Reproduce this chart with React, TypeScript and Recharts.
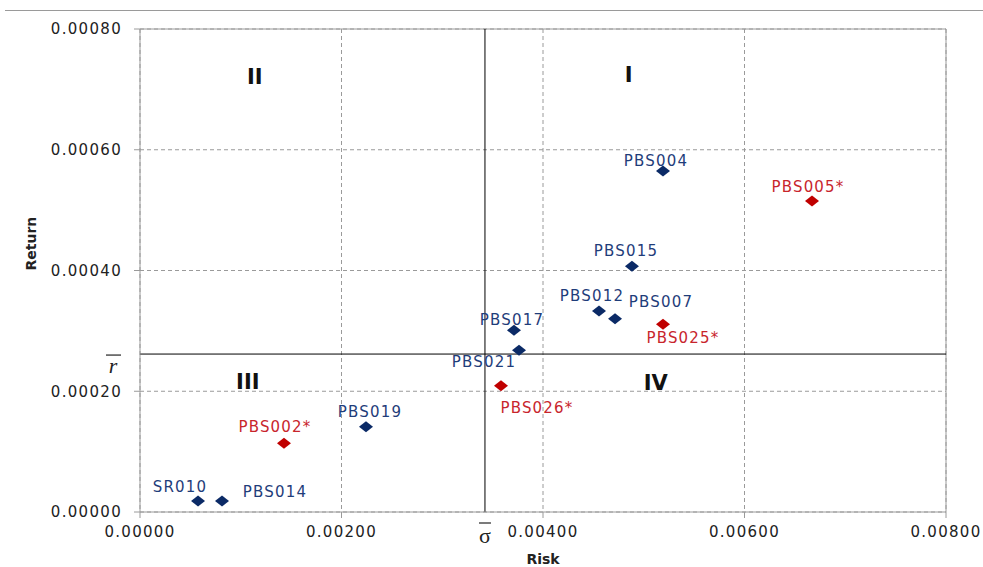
import React from 'react'
import {
    ScatterChart,
    Scatter,
    XAxis,
    YAxis,
    CartesianGrid,
    ReferenceLine,
    ReferenceDot,
} from 'recharts'

// blue = regular, red = flagged (*)
const blueNames = ['SR010', 'PBS014', 'PBS019', 'PBS021', 'PBS017', 'PBS012', 'PBS007', 'PBS015', 'PBS004']
const blueRisk = [0.000576, 0.000814, 0.002243, 0.003762, 0.003712, 0.004556, 0.004715, 0.004883, 0.005191]
const blueReturn = [0.0000182, 0.0000182, 0.000141, 0.000268, 0.000301, 0.000333, 0.00032, 0.000407, 0.000565]

const redNames = ['PBS002*', 'PBS026*', 'PBS025*', 'PBS005*']
const redRisk = [0.001429, 0.003583, 0.005191, 0.00667]
const redReturn = [0.000114, 0.000209, 0.000311, 0.000515]

const meanRisk = 0.003424
const meanReturn = 0.0002616

const xTicks = [0, 0.002, 0.004, 0.006, 0.008]
const yTicks = [0, 0.0002, 0.0004, 0.0006, 0.0008]

const quadrants = [
    { name: 'I', risk: 0.00485, ret: 0.000724 },
    { name: 'II', risk: 0.00114, ret: 0.00072 },
    { name: 'III', risk: 0.00107, ret: 0.000215 },
    { name: 'IV', risk: 0.00512, ret: 0.000214 },
]

// label offsets from the marker centre
const labelOffset: Record<string, [number, number]> = {
    'SR010': [-18, -14],
    'PBS014': [53, -9],
    'PBS002*': [-9, -16],
    'PBS019': [4, -15],
    'PBS026*': [36, 22],
    'PBS021': [-35, 12],
    'PBS017': [-2, -10],
    'PBS012': [-7, -15],
    'PBS007': [46, -17],
    'PBS025*': [20, 14],
    'PBS015': [-6, -15],
    'PBS004': [-7, -10],
    'PBS005*': [-4, -14],
}

const blueData = blueNames.map((name, i) => ({ name, risk: blueRisk[i], ret: blueReturn[i] }))
const redData = redNames.map((name, i) => ({ name, risk: redRisk[i], ret: redReturn[i] }))

const FONT = '"DejaVu Sans", Verdana, sans-serif'

const makeShape = (marker: string, text: string) => (props: any) => {
    const { cx, cy, payload } = props
    const [dx, dy] = labelOffset[payload.name] || [0, -14]
    return (
        <g>
            <path d={`M${cx},${cy - 5.5} L${cx + 7},${cy} L${cx},${cy + 5.5} L${cx - 7},${cy} Z`} fill={marker} />
            <text
                x={cx + dx}
                y={cy + dy}
                textAnchor="middle"
                dominantBaseline="central"
                fill={text}
                fontSize={15}
                letterSpacing={1.2}
                fontFamily={FONT}
            >
                {payload.name}
            </text>
        </g>
    )
}

const SigmaMark = (props: any) => {
    const { x } = props.viewBox
    return (
        <g>
            <line x1={x - 6} x2={x + 6} y1={523} y2={523} stroke="#222" strokeWidth={1.2} />
            <text x={x} y={535} textAnchor="middle" dominantBaseline="central" fontSize={22} fontFamily='"Liberation Serif", serif' fill="#222">
                σ
            </text>
        </g>
    )
}

const RMark = (props: any) => {
    const { y } = props.viewBox
    return (
        <g>
            <line x1={106} x2={121} y1={y + 1} y2={y + 1} stroke="#222" strokeWidth={1.2} />
            <text x={113} y={y + 11} textAnchor="middle" dominantBaseline="central" fontSize={22} fontStyle="italic" fontFamily='"Liberation Serif", serif' fill="#222">
                r
            </text>
        </g>
    )
}

const quadLabel = (name: string) => (props: any) => {
    const { x, y, width, height } = props.viewBox
    return (
        <text x={x + (width || 0) / 2} y={y + (height || 0) / 2} textAnchor="middle" dominantBaseline="central" fontSize={21} fontWeight="bold" fontFamily={FONT} fill="#111">
            {name}
        </text>
    )
}

const tickStyle = { fontSize: 15, fill: '#222', fontFamily: FONT, letterSpacing: 1.3 }

export default function App() {
    return (
        <div style={{ position: 'absolute', left: 0, top: 0, width: 983, height: 567, background: '#fff' }}>
            <div style={{ position: 'absolute', left: 5, top: 10, width: 978, height: 1, background: '#9a9a9a' }} />
            <ScatterChart width={983} height={567} margin={{ top: 29, right: 37, bottom: 0, left: 0 }}>
                <CartesianGrid stroke="#9a9a9a" strokeDasharray="4 3" />
                <XAxis
                    type="number"
                    dataKey="risk"
                    domain={[0, 0.008]}
                    ticks={xTicks}
                    tickFormatter={(v: number) => v.toFixed(5)}
                    tick={tickStyle}
                    stroke="#9a9a9a"
                    tickSize={6}
                    tickMargin={8}
                    height={55}
                    label={{ value: 'Risk', position: 'insideBottom', offset: 3, fontSize: 14, fontWeight: 'bold', fill: '#222', fontFamily: FONT }}
                />
                <YAxis
                    type="number"
                    dataKey="ret"
                    domain={[0, 0.0008]}
                    ticks={yTicks}
                    tickFormatter={(v: number) => v.toFixed(5)}
                    tick={tickStyle}
                    stroke="#9a9a9a"
                    tickSize={6}
                    tickMargin={12}
                    width={140}
                    label={{ value: 'Return', angle: -90, position: 'insideLeft', offset: 31, fontSize: 14, fontWeight: 'bold', fill: '#222', fontFamily: FONT }}
                />
                <ReferenceLine x={0.008} stroke="#9a9a9a" />
                <ReferenceLine y={0.0008} stroke="#9a9a9a" />
                <ReferenceLine x={meanRisk} stroke="#000" label={SigmaMark} />
                <ReferenceLine y={meanReturn} stroke="#000" label={RMark} />
                {quadrants.map((q) => (
                    <ReferenceDot key={q.name} x={q.risk} y={q.ret} r={0} stroke="none" fill="none" label={quadLabel(q.name)} />
                ))}
                <Scatter data={blueData} shape={makeShape('#0b2a66', '#1f3d7a')} isAnimationActive={false} />
                <Scatter data={redData} shape={makeShape('#c00000', '#c8252c')} isAnimationActive={false} />
            </ScatterChart>
        </div>
    )
}
